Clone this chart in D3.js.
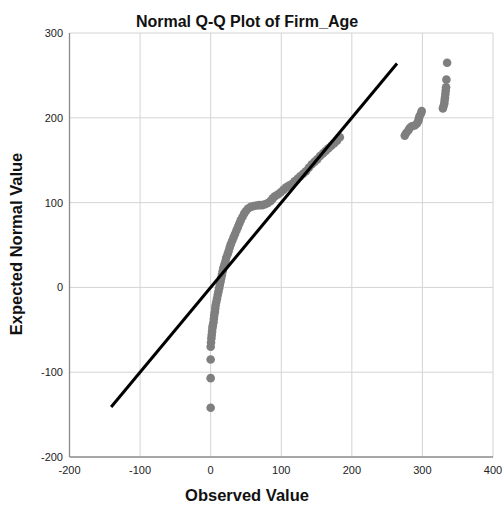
<!DOCTYPE html>
<html>
<head>
<meta charset="utf-8">
<script src="https://cdn.jsdelivr.net/npm/d3@7"></script>
<style>
  html, body { margin: 0; padding: 0; background: #fff; }
  svg { display: block; }
  text { font-family: "Liberation Sans", Arial, sans-serif; }
</style>
</head>
<body>
<svg id="chart" width="504" height="510"></svg>
<script>
// ---- Data ----
const title = "Normal Q-Q Plot of Firm_Age";
const xLabel = "Observed Value";
const yLabel = "Expected Normal Value";
const xTicks = [-200, -100, 0, 100, 200, 300, 400];
const yTicks = [-200, -100, 0, 100, 200, 300];

// observed values
const observed = [
  0, 0, 0, 0, 0.5, 1, 1.5, 2, 2.5, 3, 4, 4.5, 5, 6, 6.5, 7, 8, 9, 10, 11, 12, 13, 14, 15, 16, 17, 18,
  19.5, 21, 22, 24, 25.5, 27, 28.5, 30.5, 32.5, 34.5, 36.5, 38.5, 40.5, 42.5, 45, 47.5, 50, 53, 57, 61,
  65, 69, 73, 77, 81, 85, 88, 91, 95, 99, 103, 107, 111, 115, 119, 123, 127, 131, 135, 139, 143, 147,
  151, 155, 159, 163, 167, 171, 175, 179, 183,
  275, 277, 280, 282, 285, 289, 292, 294, 295, 296, 298, 299,
  329, 330, 331, 331.5, 332, 332.5, 333, 333.5, 334, 335
];
// expected normal values
const expected = [
  -142, -107, -85, -70, -65, -60, -56, -52, -48, -45, -41, -37, -33, -29, -25, -21, -17, -13, -9, -5, -1, 3, 7, 11, 15, 19, 23,
  27, 31, 35, 39, 43, 47, 51, 55, 59, 63, 67, 71, 75, 79, 83, 87, 90, 93, 95, 96,
  96.5, 97, 97, 98, 99.5, 102, 105, 107.5, 109.5, 112, 115, 118, 120, 122, 125, 128, 131, 134, 137, 141, 145, 148,
  151, 155, 158, 161, 164, 167, 170, 173, 177,
  179, 182, 185, 188, 190, 191, 193, 196, 199, 202, 205, 208,
  211, 214, 217, 221, 224, 228, 232, 236, 245, 265
];
// reference line endpoints (observed = expected)
const refLine = [-141, 264];

// ---- Layout ----
const svg = d3.select("#chart");
const pLeft = 69.5, pRight = 493, pTop = 33, pBottom = 457;

const x = d3.scaleLinear().domain([-200, 400]).range([pLeft, pRight]);
const y = d3.scaleLinear().domain([-200, 300]).range([pBottom, pTop]);

// gridlines
svg.append("g").selectAll("line").data(xTicks.slice(1)).join("line")
  .attr("x1", d => x(d)).attr("x2", d => x(d))
  .attr("y1", pTop).attr("y2", pBottom)
  .attr("stroke", "#d4d4d4").attr("stroke-width", 1);
svg.append("g").selectAll("line").data(yTicks.slice(1)).join("line")
  .attr("x1", pLeft).attr("x2", pRight)
  .attr("y1", d => y(d)).attr("y2", d => y(d))
  .attr("stroke", "#d4d4d4").attr("stroke-width", 1);

// axes lines
svg.append("line").attr("x1", pLeft).attr("x2", pLeft).attr("y1", pTop).attr("y2", pBottom)
  .attr("stroke", "#8a8a8a").attr("stroke-width", 1.3);
svg.append("line").attr("x1", pLeft).attr("x2", pRight).attr("y1", pBottom).attr("y2", pBottom)
  .attr("stroke", "#8a8a8a").attr("stroke-width", 1.3);

// tick labels
svg.append("g").selectAll("text").data(xTicks).join("text")
  .attr("x", d => x(d)).attr("y", 474)
  .attr("text-anchor", "middle").attr("font-size", 11).attr("fill", "#222")
  .text(d => d);
svg.append("g").selectAll("text").data(yTicks).join("text")
  .attr("x", 63).attr("y", d => y(d) + 4)
  .attr("text-anchor", "end").attr("font-size", 11).attr("fill", "#222")
  .text(d => d);

// points
const pts = observed.map((o, i) => ({o, e: expected[i]}));
svg.append("g").selectAll("circle").data(pts).join("circle")
  .attr("cx", d => x(d.o)).attr("cy", d => y(d.e)).attr("r", 4.3)
  .attr("fill", "#7f7f7f");

// reference line
svg.append("line")
  .attr("x1", x(refLine[0])).attr("y1", y(refLine[0]))
  .attr("x2", x(refLine[1])).attr("y2", y(refLine[1]))
  .attr("stroke", "#000").attr("stroke-width", 3);

// titles
svg.append("text").attr("x", 247).attr("y", 27)
  .attr("text-anchor", "middle").attr("font-size", 16).attr("font-weight", "bold")
  .attr("fill", "#111").text(title);
svg.append("text").attr("x", 247).attr("y", 501)
  .attr("text-anchor", "middle").attr("font-size", 16.5).attr("font-weight", "bold")
  .attr("fill", "#111").text(xLabel);
svg.append("text").attr("transform", "translate(22,244) rotate(-90)")
  .attr("text-anchor", "middle").attr("font-size", 16.5).attr("font-weight", "bold")
  .attr("fill", "#111").text(yLabel);
</script>
</body>
</html>
